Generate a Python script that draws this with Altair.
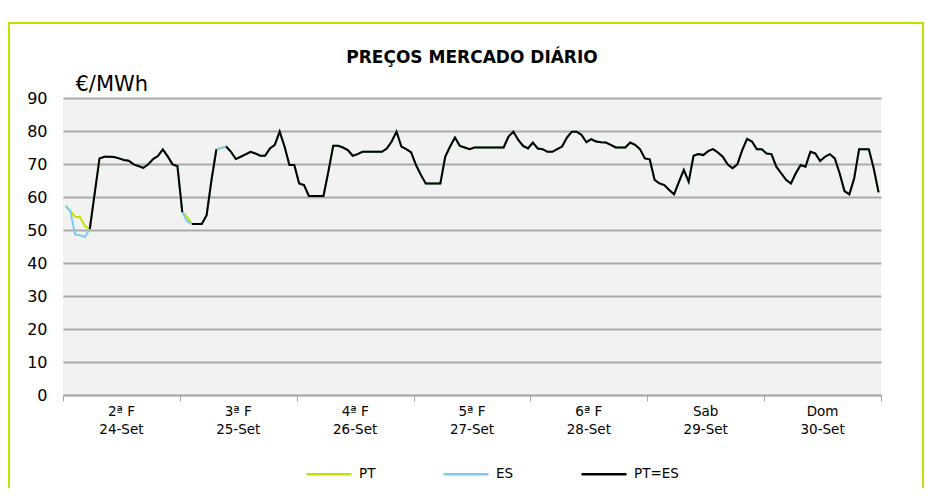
import altair as alt
import pandas as pd

# hourly day-ahead prices, 24-Set .. 30-Set (168 hours)
PT = [
    57.4, 55.8, 54.0, 53.9, 51.2, 50.3, 61.0, 71.7, 72.2, 72.2, 72.1, 71.7, 71.2, 71.0, 69.9, 69.4, 68.8, 69.9, 71.5, 72.4, 74.4, 72.3, 69.9, 69.4,
    55.4, 53.9, 51.8, 51.8, 51.8, 54.5, 65.2, 74.4, 74.9, 75.3, 73.7, 71.5, 72.2, 72.9, 73.7, 73.2, 72.5, 72.5, 74.7, 75.8, 79.8, 75.3, 69.7, 69.7,
    64.1, 63.6, 60.3, 60.3, 60.3, 60.3, 67.7, 75.5, 75.5, 75.0, 74.2, 72.5, 73.0, 73.7, 73.7, 73.7, 73.7, 73.7, 74.7, 76.8, 79.8, 75.3, 74.5, 73.5,
    69.7, 66.7, 64.1, 64.1, 64.1, 64.1, 72.2, 75.3, 78.0, 75.5, 75.0, 74.5, 75.0, 75.0, 75.0, 75.0, 75.0, 75.0, 75.0, 78.3, 79.8, 77.3, 75.5, 74.7,
    76.5, 74.7, 74.5, 73.7, 73.7, 74.5, 75.3, 78.0, 79.8, 79.8, 78.8, 76.6, 77.5, 76.8, 76.6, 76.5, 75.8, 75.0, 75.0, 75.0, 76.5, 75.8, 74.5, 71.7,
    71.4, 65.2, 64.1, 63.6, 62.1, 60.8, 64.6, 68.2, 64.6, 72.5, 73.0, 72.7, 73.9, 74.5, 73.5, 72.2, 69.9, 68.7, 69.9, 74.2, 77.6, 76.8, 74.5, 74.5,
    73.2, 73.0, 69.2, 67.2, 65.2, 64.1, 67.2, 69.7, 69.2, 73.7, 73.2, 70.9, 72.2, 73.0, 71.7, 67.2, 61.8, 60.8, 65.7, 74.5, 74.5, 74.5, 68.7, 61.4,
]
ES = [
    57.3, 55.7, 48.6, 48.4, 47.9, 50.3, 61.0, 71.7, 72.2, 72.2, 72.1, 71.7, 71.2, 71.0, 69.9, 69.4, 68.8, 69.9, 71.5, 72.4, 74.4, 72.3, 69.9, 69.4,
    55.4, 52.6, 51.8, 51.8, 51.8, 54.5, 65.2, 74.4, 74.8, 75.3, 73.7, 71.5, 72.2, 72.9, 73.7, 73.2, 72.5, 72.5, 74.7, 75.8, 79.8, 75.3, 69.7, 69.7,
    64.1, 63.6, 60.3, 60.3, 60.3, 60.3, 67.7, 75.5, 75.5, 75.0, 74.2, 72.5, 73.0, 73.7, 73.7, 73.7, 73.7, 73.7, 74.7, 76.8, 79.8, 75.3, 74.5, 73.5,
    69.7, 66.7, 64.1, 64.1, 64.1, 64.1, 72.2, 75.3, 78.0, 75.5, 75.0, 74.5, 75.0, 75.0, 75.0, 75.0, 75.0, 75.0, 75.0, 78.3, 79.8, 77.3, 75.5, 74.7,
    76.5, 74.7, 74.5, 73.7, 73.7, 74.5, 75.3, 78.0, 79.8, 79.8, 78.8, 76.6, 77.5, 76.8, 76.6, 76.5, 75.8, 75.0, 75.0, 75.0, 76.5, 75.8, 74.5, 71.7,
    71.4, 65.2, 64.1, 63.6, 62.1, 60.8, 64.6, 68.2, 64.6, 72.5, 73.0, 72.7, 73.9, 74.5, 73.5, 72.2, 69.9, 68.7, 69.9, 74.2, 77.6, 76.8, 74.5, 74.5,
    73.2, 73.0, 69.2, 67.2, 65.2, 64.1, 67.2, 69.7, 69.2, 73.7, 73.2, 70.9, 72.2, 73.0, 71.7, 67.2, 61.8, 60.8, 65.7, 74.5, 74.5, 74.5, 68.7, 61.4,
]
DAYS = ["2ª F", "3ª F", "4ª F", "5ª F", "6ª F", "Sab", "Dom"]
DATES = ["24-Set", "25-Set", "26-Set", "27-Set", "28-Set", "29-Set", "30-Set"]
SERIES = ["PT", "ES", "PT=ES"]
COLORS = ["#c3e000", "#7ecbf0", "#000000"]
Y_TICKS = list(range(0, 100, 10))
TITLE = "PREÇOS MERCADO DIÁRIO"

FONT = "DejaVu Sans"
W, H = 818, 297

rows = []
for i, (p, e) in enumerate(zip(PT, ES)):
    rows.append({"h": i + 0.5, "v": p, "series": "PT", "seg": 0})
    rows.append({"h": i + 0.5, "v": e, "series": "ES", "seg": 0})
seg = 0
prev_eq = False
for i, (p, e) in enumerate(zip(PT, ES)):
    eq = p == e
    if eq:
        if not prev_eq:
            seg += 1
        rows.append({"h": i + 0.5, "v": p, "series": "PT=ES", "seg": seg})
    prev_eq = eq
df = pd.DataFrame(rows)

days_df = pd.DataFrame({
    "c": [24 * k + 12 for k in range(len(DAYS))],
    "label": [f"{d}\n{t}" for d, t in zip(DAYS, DATES)],
})
title_df = pd.DataFrame({"t": [TITLE]})

xscale = alt.Scale(domain=[0, 168], nice=False, zero=False)
yscale = alt.Scale(domain=[0, 90], nice=False)
color = alt.Color(
    "series:N",
    scale=alt.Scale(domain=SERIES, range=COLORS),
    legend=alt.Legend(
        title=None, orient="none", direction="horizontal", legendX=242, legendY=352,
        symbolType="stroke", symbolSize=2025, symbolStrokeWidth=2.5,
        labelFontSize=13.5, labelFont=FONT, labelColor="#000", columnPadding=62,
        labelOffset=6, padding=0,
    ),
)

xaxis = alt.Axis(values=list(range(0, 169, 24)), labels=False, tickSize=6,
                 tickColor="#a6a6a6", domainColor="#a6a6a6", domainWidth=1.5,
                 grid=False, title=None)
yaxis = alt.Axis(values=Y_TICKS, grid=True, gridColor="#a9a9a9", gridWidth=2,
                 domain=False, ticks=False, labelFontSize=16, labelFont=FONT,
                 labelColor="#000", labelPadding=16,
                 title="€/MWh", titleAngle=0, titleAlign="left", titleBaseline="alphabetic",
                 titleX=12, titleY=-8, titleFontSize=21, titleFontWeight="normal",
                 titleFont=FONT, titleColor="#000")

base = alt.Chart(df)
layers = []
for s in SERIES:
    layers.append(
        base.transform_filter(alt.datum.series == s).mark_line(strokeWidth=2).encode(
            x=alt.X("h:Q", scale=xscale, axis=xaxis),
            y=alt.Y("v:Q", scale=yscale, axis=yaxis),
            color=color,
            detail="seg:N",
        )
    )

labels = alt.Chart(days_df).mark_text(
    lineBreak="\n", baseline="top", fontSize=13.5, font=FONT, color="#000", lineHeight=18
).encode(x=alt.X("c:Q", scale=xscale), y=alt.value(H + 10), text="label:N")

title = alt.Chart(title_df).mark_text(
    fontSize=17, font=FONT, fontWeight="bold", color="#000", baseline="middle", align="center"
).encode(x=alt.value(W / 2), y=alt.value(-40), text="t:N")

border = alt.Chart(days_df).mark_rect(filled=False, stroke="#c3e000", strokeWidth=2).encode(
    x=alt.value(-54), x2=alt.value(860), y=alt.value(-75), y2=alt.value(420)
)

chart = alt.layer(border, *layers, labels, title).properties(
    width=W, height=H,
    padding={"left": 55, "top": 90, "right": 44, "bottom": 93},
    autosize=alt.AutoSizeParams(type="none"),
).configure_view(fill="#f2f2f2", stroke=None)

chart.save("out.html", embed_options={"renderer": "svg", "actions": False})
